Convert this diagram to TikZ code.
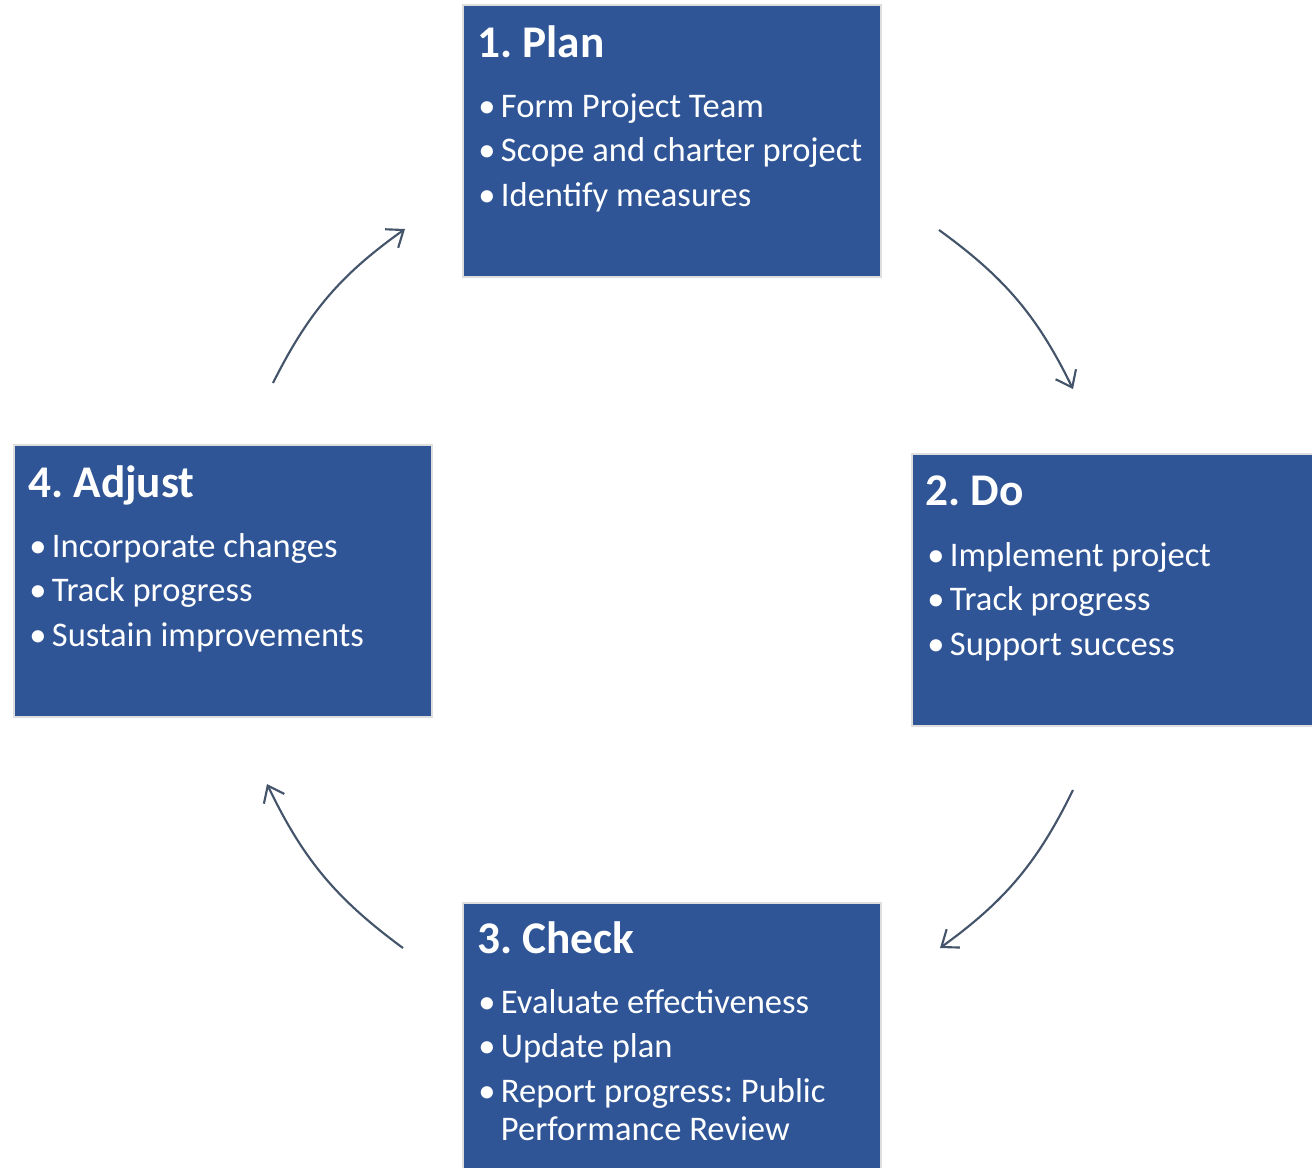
\documentclass[tikz,border=0pt]{standalone}
\usepackage{fontspec}
\setmainfont{Carlito}
\usetikzlibrary{arrows.meta, positioning}

\definecolor{boxblue}{RGB}{47,85,151}
\definecolor{boxrim}{RGB}{222,222,222}
\definecolor{arrowgray}{RGB}{68,84,106}
\newcommand{\bul}{\makebox[17pt][l]{\textbullet}}
\frenchspacing

\tikzset{
  phasebox/.style={rectangle, fill=boxblue, draw=boxrim, line width=1.5pt, minimum width=313.5pt, minimum height=204pt, inner sep=0pt},
  phasetitle/.style={anchor=base west, inner sep=0pt, text=white, font=\fontsize{34}{40}\selectfont\bfseries},
  phaselist/.style={anchor=base west, inner sep=0pt, text=white, font=\fontsize{25.9}{33.4}\selectfont},
  cyclearrow/.style={-{Straight Barb[length=11pt,width=17pt]}, draw=arrowgray, line width=1.6pt, bend right=14}
}

\begin{document}
\begin{tikzpicture}[x=0.75pt,y=0.75pt,yscale=-1,xscale=1]
\useasboundingbox (0,0) rectangle (1312,1167);

%Boxes
\node [phasebox] (plan) at (672,141) {};
\node [phasebox] (do) at (1121,590) {};
\node [phasebox] (check) at (672,1039) {};
\node [phasebox] (adjust) at (223,581) {};

% Text Node
\node [phasetitle] (plan-title) at (477,57) {1. Plan};
\node [phaselist] (plan-list) at (478,117) {\begin{tabular}[t]{@{}l@{}}\bul Form Project Team\\\bul Scope and charter project\\\bul Identify measures\end{tabular}};
% Text Node
\node [phasetitle] (do-title) at (925,505) {2. Do};
\node [phaselist] (do-list) at (927,566) {\begin{tabular}[t]{@{}l@{}}\bul Implement project\\\bul Track progress\\\bul Support success\end{tabular}};
% Text Node
\node [phasetitle] (check-title) at (477,953) {3. Check};
\node [phaselist] (check-list) at (478,1013) {\begin{tabular}[t]{@{}l@{}}\bul Evaluate effectiveness\\\bul Update plan\\\bul Report progress: Public\\[-4.9pt]\phantom{\bul}Performance Review\end{tabular}};
% Text Node
\node [phasetitle] (adjust-title) at (28,497) {4. Adjust};
\node [phaselist] (adjust-list) at (29,557) {\begin{tabular}[t]{@{}l@{}}\bul Incorporate changes\\\bul Track progress\\\bul Sustain improvements\end{tabular}};

%Arrows
\coordinate (plan-out) at (939,230);
\coordinate (do-in) at (1073,389);
\coordinate (do-out) at (1073,790);
\coordinate (check-in) at (940,948);
\coordinate (check-out) at (403,948);
\coordinate (adjust-in) at (267,784);
\coordinate (adjust-out) at (273,383);
\coordinate (plan-in) at (405,229);
\draw [cyclearrow] (plan-out) to (do-in);
\draw [cyclearrow] (do-out) to (check-in);
\draw [cyclearrow] (check-out) to (adjust-in);
\draw [cyclearrow] (adjust-out) to (plan-in);

\end{tikzpicture}
\end{document}
